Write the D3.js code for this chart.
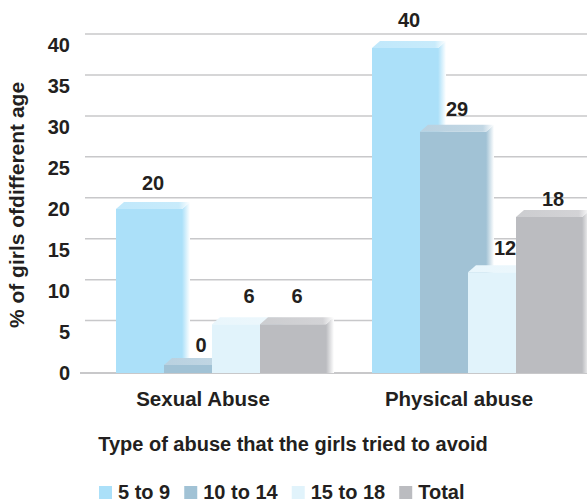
<!DOCTYPE html>
<html>
<head>
<meta charset="utf-8">
<script src="https://cdn.jsdelivr.net/npm/d3@7"></script>
<style>
body{margin:0;background:#fff;}
text{font-family:"Liberation Sans",Arial,sans-serif;font-weight:bold;fill:#231f20;}
</style>
</head>
<body>
<div id="chart"></div>
<script>
var groups=["Sexual Abuse","Physical abuse"];
var series=["5 to 9","10 to 14","15 to 18","Total"];
// numbers printed above the bars
var age5to9=[20,40];
var age10to14=[0,29];
var age15to18=[6,12];
var ageTotal=[6,18];
// bar heights as drawn (a bit off from the printed numbers)
var bar5to9=[20.2,40];
var bar10to14=[1,29.7];
var bar15to18=[6,12.4];
var barTotal=[6,19.2];
var yTicks=[0,5,10,15,20,25,30,35,40];
var colors=["#abe0f9","#a1c2d5","#e1f3fb","#bbbcc0"];

var width=587, height=502;
var dx=8, dy=7, barW=66;

var labelsBySeries=[age5to9,age10to14,age15to18,ageTotal];
var barsBySeries=[bar5to9,bar10to14,bar15to18,barTotal];

var rows=[];
groups.forEach(function(g,gi){
  series.forEach(function(s,si){
    rows.push({group:g,series:s,si:si,label:labelsBySeries[si][gi],value:barsBySeries[si][gi]});
  });
});

var svg=d3.select("#chart").append("svg")
  .attr("width",width)
  .attr("height",height);

// front plane, back wall, tick labels
var y=d3.scaleLinear().domain([0,40]).range([373,48]);
var yBack=d3.scaleLinear().domain([0,40]).range([361.5,34]);
var yLab=d3.scaleLinear().domain([0,40]).range([372.6,45.3]);

var x0=d3.scaleBand().domain(groups).range([75,587]);
var x1=d3.scalePoint().domain(series).range([0,144]);
var color=d3.scaleOrdinal().domain(series).range(colors);

var defs=svg.append("defs");
series.forEach(function(s,i){
  var c=colors[i];
  var side=defs.append("linearGradient").attr("id","side"+i)
    .attr("x1",0).attr("x2",1).attr("y1",0).attr("y2",0);
  side.append("stop").attr("offset","0%").attr("stop-color",c);
  side.append("stop").attr("offset","100%").attr("stop-color","#ffffff");
  var top=defs.append("linearGradient").attr("id","top"+i)
    .attr("x1",0).attr("x2",1).attr("y1",0).attr("y2",0);
  top.append("stop").attr("offset","0%").attr("stop-color",d3.interpolateRgb(c,"#fff")(0.25));
  top.append("stop").attr("offset","85%").attr("stop-color",d3.interpolateRgb(c,"#fff")(0.35));
  top.append("stop").attr("offset","100%").attr("stop-color","#ffffff");
});

// gridlines on back wall
svg.append("g").selectAll("line")
  .data(yTicks.filter(function(d){return d>0;}))
  .enter()
  .append("line")
  .attr("x1",85).attr("x2",width)
  .attr("y1",function(d){return yBack(d);})
  .attr("y2",function(d){return yBack(d);})
  .attr("stroke","#c8c8ca")
  .attr("stroke-width",1.5);

// floor edge
svg.append("line")
  .attr("x1",80).attr("x2",width)
  .attr("y1",y(0)).attr("y2",y(0))
  .attr("stroke","#c8c8ca")
  .attr("stroke-width",2);

var yAxis=d3.axisLeft(yLab).tickValues(yTicks).tickSize(0).tickPadding(0);
var ax=svg.append("g").attr("transform","translate(70,0)").call(yAxis);
ax.select(".domain").remove();
ax.selectAll("text").attr("font-size",20).attr("font-family",null).attr("fill",null);

function barX(d){return x0(d.group)+41+x1(d.series);}

var bars=svg.append("g").selectAll("g")
  .data(rows)
  .enter()
  .append("g");

bars.append("rect")
  .attr("x",barX)
  .attr("y",function(d){return y(d.value);})
  .attr("width",barW)
  .attr("height",function(d){return y(0)-y(d.value);})
  .attr("fill",function(d){return color(d.series);});

bars.append("polygon")
  .attr("points",function(d){
    var x=barX(d), t=y(d.value), b=y(0);
    return [[x+barW,t],[x+barW+dx,t-dy],[x+barW+dx,b],[x+barW,b]].join(" ");
  })
  .attr("fill",function(d){return "url(#side"+d.si+")";});

bars.append("polygon")
  .attr("points",function(d){
    var x=barX(d), t=y(d.value);
    return [[x,t],[x+dx,t-dy],[x+barW+dx,t-dy],[x+barW,t]].join(" ");
  })
  .attr("fill",function(d){return "url(#top"+d.si+")";});

svg.append("g").selectAll("text")
  .data(rows)
  .enter()
  .append("text")
  .text(function(d){return d.label;})
  .attr("x",function(d){return barX(d)+barW/2+dx/2;})
  .attr("y",function(d){return y(d.label)-21;})
  .attr("text-anchor","middle")
  .attr("font-size",20);

// category labels
svg.append("g").selectAll("text")
  .data(groups)
  .enter()
  .append("text")
  .text(function(d){return d;})
  .attr("x",function(d){return x0(d)+x0.bandwidth()/2;})
  .attr("y",406)
  .attr("text-anchor","middle")
  .attr("font-size",20.5);

svg.append("text")
  .text("Type of abuse that the girls tried to avoid")
  .attr("x",293)
  .attr("y",451)
  .attr("text-anchor","middle")
  .attr("font-size",20);

svg.append("text")
  .text("% of girls ofdifferent age")
  .attr("transform","translate(24,205) rotate(-90)")
  .attr("text-anchor","middle")
  .attr("font-size",21);

// legend
var lx=99;
series.forEach(function(s,i){
  svg.append("rect")
    .attr("x",lx).attr("y",486)
    .attr("width",13).attr("height",13)
    .attr("fill",color(s));
  var t=svg.append("text")
    .text(s)
    .attr("x",lx+19)
    .attr("y",499)
    .attr("font-size",20);
  lx+=19+t.node().getComputedTextLength()+14;
});
</script>
</body>
</html>
